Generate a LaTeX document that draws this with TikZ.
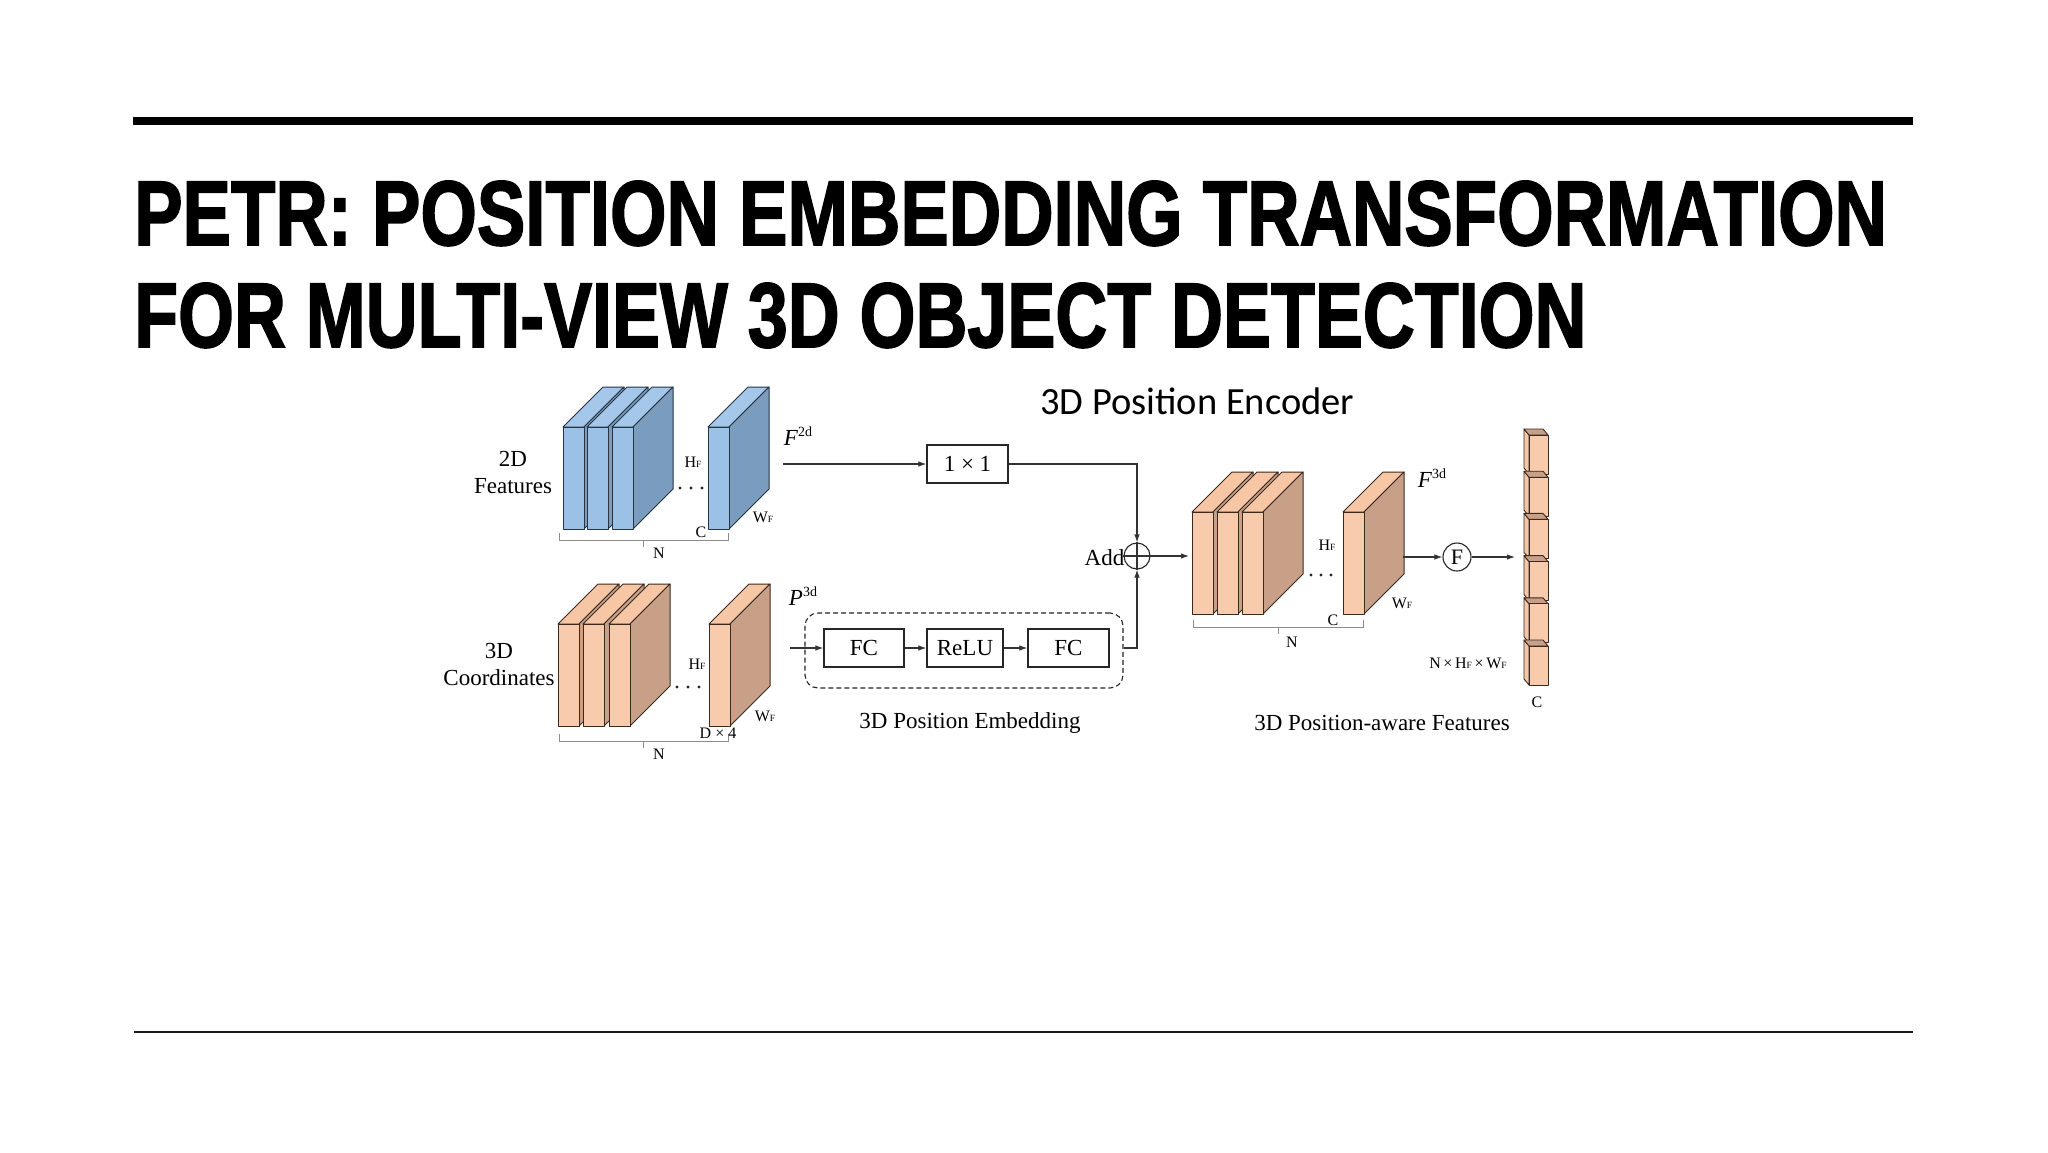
\documentclass[tikz,border=0pt]{standalone}
\usepackage{fontspec}
\usepackage{graphicx}
\setmainfont{Liberation Serif}
\newfontfamily\titlefont{Liberation Sans}[FakeBold=2]
\newfontfamily\encfont{Carlito}
\usetikzlibrary{arrows.meta}
\definecolor{bfront}{HTML}{9BC2E6}
\definecolor{btop}{HTML}{A5C8EA}
\definecolor{bside}{HTML}{7A9CBF}
\definecolor{bline}{HTML}{263545}
\definecolor{ofront}{HTML}{F8CBAD}
\definecolor{otop}{HTML}{F6C6A5}
\definecolor{oside}{HTML}{C8A087}
\definecolor{oline}{HTML}{3A2A20}
\newcommand\subF{{\fontsize{9.5}{10}\selectfont F}}
\newcommand\drawslab[3]{%
 \filldraw[#3t] (#1,#2) -- ++(40,-40) -- ++(21,0) -- ++(-40,40) -- cycle;
 \filldraw[#3s] (#1+21,#2) -- ++(40,-40) -- ++(0,102) -- ++(-40,40) -- cycle;
 \filldraw[#3f] (#1,#2) rectangle ++(21,102);}
\newcommand\drawcube[1]{%
 \filldraw[cubel] (1529,#1) -- ++(-5,-6) -- ++(0,39) -- ++(5,6) -- cycle;
 \filldraw[cubet] (1529,#1) -- ++(-5,-6) -- ++(19,0) -- ++(5,6) -- cycle;
 \filldraw[orgf] (1529,#1) rectangle ++(19,39);}
\newcommand\drawbrk[3]{%
 \draw[brk] (#1,#3-7) -- (#1,#3) -- (#2,#3) -- (#2,#3-7);
 \draw[brk] ({(#1+#2)/2},#3) -- ++(0,7);}
\begin{document}
\begin{tikzpicture}[x=1pt,y=-1pt,
 bluef/.style={fill=bfront,draw=bline,line width=1pt,line join=round},
 bluet/.style={fill=btop,draw=bline,line width=1pt,line join=round},
 blues/.style={fill=bside,draw=bline,line width=1pt,line join=round},
 orgf/.style={fill=ofront,draw=oline,line width=1pt,line join=round},
 orgt/.style={fill=otop,draw=oline,line width=1pt,line join=round},
 orgs/.style={fill=oside,draw=oline,line width=1pt,line join=round},
 cubel/.style={fill=otop,draw=oline,line width=0.9pt,line join=round},
 cubet/.style={fill=oside,draw=oline,line width=0.9pt,line join=round},
 brk/.style={draw=black!45,line width=0.9pt},
 arr/.style={draw=black!80,line width=1.1pt,-{Latex[length=8pt,width=5.5pt]}},
 conn/.style={draw=black!80,line width=1.1pt},
 opbox/.style={draw=black!85,line width=1.2pt,minimum height=38pt,inner sep=0pt,font=\fontsize{23}{26}\selectfont},
 lbl/.style={inner sep=0pt,font=\fontsize{23}{27}\selectfont,align=center},
 dim/.style={inner sep=0pt,font=\fontsize{16}{18}\selectfont},
 supl/.style={inner sep=0pt,font=\fontsize{23}{26}\selectfont}]
\useasboundingbox (0,0) rectangle (2048,1152);
\fill[white] (0,0) rectangle (2048,1152);
% rules
\fill[black] (133,117) rectangle (1913,125);
\fill[black!90] (134,1030.8) rectangle (1913,1033.2);
% title
\node[anchor=base west,inner sep=0pt] (t1) at (134,245)
 {\resizebox{1752pt}{64pt}{\titlefont\bfseries PETR: POSITION EMBEDDING TRANSFORMATION}};
\node[anchor=base west,inner sep=0pt] (t2) at (134,347)
 {\resizebox{1452pt}{64pt}{\titlefont\bfseries FOR MULTI-VIEW 3D OBJECT DETECTION}};
\node[anchor=base west,inner sep=0pt,font=\encfont\fontsize{38.5}{42}\selectfont] (enc) at (1040,414) {3D Position Encoder};
% 2D features
\drawslab{563}{427}{blue}
\drawslab{587}{427}{blue}
\drawslab{612}{427}{blue}
\drawslab{708}{427}{blue}
\foreach \xx in {680,691,702} \fill[black!85] (\xx,488) circle (1.6);
\drawbrk{559}{728}{540}
\node[lbl] (l2d) at (513,472) {2D\\Features};
\node[dim] (h1) at (693,462) {H\subF};
\node[dim] (w1) at (763,517) {W\subF};
\node[dim] (c1) at (701,532) {C};
\node[dim] (n1) at (659,553) {N};
% 3D coordinates
\drawslab{558}{624}{org}
\drawslab{583}{624}{org}
\drawslab{609}{624}{org}
\drawslab{709}{624}{org}
\foreach \xx in {677,688,699} \fill[black!85] (\xx,687) circle (1.6);
\drawbrk{559}{728}{741}
\node[lbl] (l3d) at (499,664) {3D\\Coordinates};
\node[dim] (h2) at (697,664) {H\subF};
\node[dim] (w2) at (765,716) {W\subF};
\node[dim] (d2) at (718,733) {D × 4};
\node[dim] (n2) at (659,754) {N};
% F3d slabs
\drawslab{1192}{512}{org}
\drawslab{1217}{512}{org}
\drawslab{1242}{512}{org}
\drawslab{1343}{512}{org}
\foreach \xx in {1311,1321,1331} \fill[black!85] (\xx,575) circle (1.6);
\drawbrk{1193}{1363}{627}
\node[dim] (h3) at (1327,545) {H\subF};
\node[dim] (w3) at (1402,603) {W\subF};
\node[dim] (c3) at (1333,620) {C};
\node[dim] (n3) at (1292,642) {N};
% column of cubes
\foreach \i in {0,...,5} {\drawcube{435+42.2*\i}}
\node[dim] (c4) at (1537,702) {C};
\node[dim] (nhw) at (1468,663) {N\,×\,H\subF\,×\,W\subF};
% superscript labels
\node[supl] (f2d) at (798,436) {\textit{F}\raisebox{0.42em}{\fontsize{14}{15}\selectfont 2d}};
\node[supl] (p3d) at (803,596) {\textit{P}\raisebox{0.42em}{\fontsize{14}{15}\selectfont 3d}};
\node[supl] (f3d) at (1432,478) {\textit{F}\raisebox{0.42em}{\fontsize{14}{15}\selectfont 3d}};
% operator boxes
\node[opbox,minimum width=81pt] (conv) at (967.5,464) {1 × 1};
\node[draw=black!85,line width=1.1pt,dashed,dash pattern=on 5pt off 3pt,rounded corners=13pt,minimum width=318pt,minimum height=75pt,inner sep=0pt] (pe) at (964,650.5) {};
\node[opbox,minimum width=80pt] (fc1) at (864,648) {FC};
\node[opbox,minimum width=76pt] (relu) at (965,648) {ReLU};
\node[opbox,minimum width=81pt] (fc2) at (1068.5,648) {FC};
\node[lbl] (pelbl) at (970,723) {3D Position Embedding};
\node[lbl] (palbl) at (1382,723) {3D Position-aware Features};
% add
\node[circle,draw=black!85,line width=1.1pt,minimum size=26pt,inner sep=0pt] (add) at (1137,556) {};
\draw[conn] (add.north) -- (add.south) (add.west) -- (add.east);
\node[lbl,anchor=east] (addlbl) at ([xshift=1pt,yshift=-2pt]add.west) {Add};
\node[circle,draw=black!85,line width=1.1pt,minimum size=28pt,inner sep=0pt,font=\fontsize{22}{24}\selectfont] (fop) at (1457,557) {F};
% coordinates
\coordinate (f2out) at (783,464);
\coordinate (p3out) at (790,648);
\coordinate (f3in) at (1189,556);
\coordinate (f3out) at (1403,557);
\coordinate (colin) at (1515,557);
% connectors
\draw[arr] (f2out) -- (conv.west);
\draw[arr] (conv.east) -| (add.north);
\draw[arr] (p3out) -- (fc1.west);
\draw[arr] (fc1.east) -- (relu.west);
\draw[arr] (relu.east) -- (fc2.west);
\draw[arr] (fc2.east -| pe.east) -| (add.south);
\draw[arr] (add.east) -- (f3in);
\draw[arr] (f3out) -- (fop.west);
\draw[arr] (fop.east) -- (colin);
\end{tikzpicture}
\end{document}
